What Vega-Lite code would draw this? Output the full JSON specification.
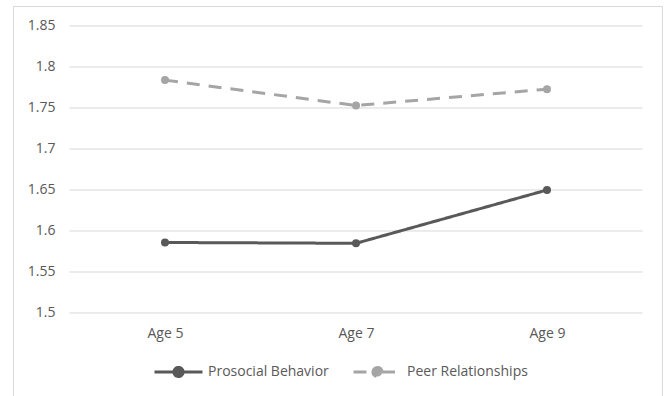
{
  "$schema": "https://vega.github.io/schema/vega-lite/v6.json",
  "width": 649,
  "height": 390,
  "autosize": {"type": "none"},
  "padding": {"left": 13, "top": 6, "right": 5, "bottom": 0},
  "background": "white",
  "config": {
    "view": {"stroke": "#D9D9D9", "strokeWidth": 1},
    "font": "Open Sans",
    "axis": {"labelColor": "#595959", "labelFontSize": 14, "domain": false, "ticks": false, "grid": false, "title": null}
  },
  "datasets": {
    "scores": [
      {"age": 5, "series": "Prosocial Behavior", "value": 1.586},
      {"age": 7, "series": "Prosocial Behavior", "value": 1.585},
      {"age": 9, "series": "Prosocial Behavior", "value": 1.65},
      {"age": 5, "series": "Peer Relationships", "value": 1.784},
      {"age": 7, "series": "Peer Relationships", "value": 1.753},
      {"age": 9, "series": "Peer Relationships", "value": 1.773}
    ],
    "gridlines": [
      {"v": 1.5}, {"v": 1.55}, {"v": 1.6}, {"v": 1.65},
      {"v": 1.7}, {"v": 1.75}, {"v": 1.8}, {"v": 1.85}
    ]
  },
  "layer": [
    {
      "data": {"name": "gridlines"},
      "mark": {"type": "rule", "color": "#D9D9D9", "strokeWidth": 1},
      "encoding": {
        "y": {
          "field": "v",
          "type": "quantitative",
          "scale": {"domain": [1.39878, 1.87439], "nice": false, "zero": false},
          "axis": {"values": [1.5, 1.55, 1.6, 1.65, 1.7, 1.75, 1.8, 1.85], "format": "~g", "orient": "left", "offset": -56, "labelPadding": 14}
        },
        "x": {
          "datum": 4,
          "type": "quantitative",
          "scale": {"domain": [3.4084, 10.2042], "nice": false, "zero": false},
          "axis": {"values": [5, 7, 9], "labelExpr": "'Age ' + datum.value", "orient": "bottom", "offset": -83, "labelPadding": 13}
        },
        "x2": {"datum": 10}
      }
    },
    {
      "data": {"name": "scores"},
      "mark": {"type": "line", "strokeWidth": 3},
      "encoding": {
        "x": {"field": "age", "type": "quantitative"},
        "y": {"field": "value", "type": "quantitative"},
        "color": {
          "field": "series",
          "type": "nominal",
          "scale": {"domain": ["Prosocial Behavior", "Peer Relationships"], "range": ["#595959", "#A5A5A5"]},
          "legend": {
            "title": null,
            "orient": "none",
            "direction": "horizontal",
            "legendX": 140,
            "legendY": 340,
            "symbolType": "M-1,0H-0.19M0.19,0H1M-0.19,0A0.19,0.19,0,1,1,0.19,0A0.19,0.19,0,1,1,-0.19,0",
            "symbolSize": 2304,
            "symbolStrokeWidth": 3,
            "labelFontSize": 14,
            "labelColor": "#595959",
            "labelOffset": 4,
            "columnPadding": 18
          }
        },
        "strokeDash": {
          "field": "series",
          "type": "nominal",
          "scale": {"domain": ["Prosocial Behavior", "Peer Relationships"], "range": [[1, 0], [13, 9]]},
          "legend": {"title": null}
        }
      }
    },
    {
      "data": {"name": "scores"},
      "mark": {"type": "point", "filled": true, "size": 64, "opacity": 1},
      "encoding": {
        "x": {"field": "age", "type": "quantitative"},
        "y": {"field": "value", "type": "quantitative"},
        "color": {"field": "series", "type": "nominal"}
      }
    }
  ]
}
